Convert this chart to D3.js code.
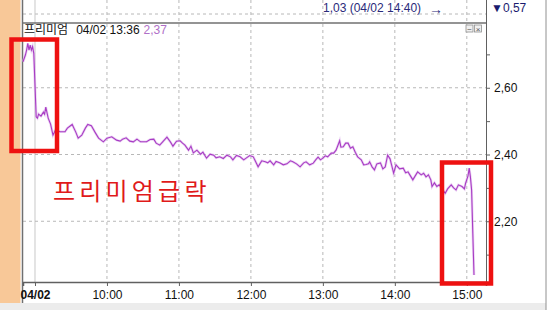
<!DOCTYPE html>
<html>
<head>
<meta charset="utf-8">
<script src="https://cdn.jsdelivr.net/npm/d3@7"></script>
<style>
  html, body { margin: 0; padding: 0; background: #fff; }
  svg { display: block; font-family: "Liberation Sans", "Noto Sans CJK KR", sans-serif; }
  .grid { stroke: #b8b8b8; stroke-dasharray: 3,3; stroke-width: 1; }
  .axis path, .axis line { stroke: #606060; }
  .axis text { font-size: 12px; fill: #111; }
</style>
</head>
<body>
<div id="chart"></div>
<script>
// premium series, 04/02 intraday
const times = [
    "08:50","08:52","08:53","08:54","08:55","08:56","08:57","08:58","08:59","09:01",
    "09:02","09:03","09:05","09:07","09:08","09:09","09:11","09:13","09:15","09:17",
    "09:21","09:25","09:27","09:31","09:34","09:36","09:39","09:42","09:44","09:47",
    "09:50","09:53","09:57","10:00","10:04","10:08","10:11","10:13","10:16","10:19",
    "10:22","10:25","10:28","10:33","10:36","10:39","10:41","10:44","10:47","10:50",
    "10:53","10:55","10:58","11:01","11:03","11:05","11:08","11:10","11:12","11:15",
    "11:18","11:20","11:23","11:26","11:29","11:31","11:34","11:37","11:40","11:43",
    "11:45","11:48","11:51","11:54","11:56","11:59","12:02","12:06","12:09","12:12",
    "12:14","12:16","12:19","12:21","12:24","12:27","12:30","12:33","12:35","12:38",
    "12:41","12:44","12:46","12:49","12:52","12:54","12:56","12:58","13:00","13:02",
    "13:04","13:07","13:09","13:11","13:14","13:15","13:17","13:19","13:21","13:23",
    "13:25","13:27","13:29","13:32","13:34","13:36","13:38","13:39","13:41","13:43",
    "13:45","13:48","13:50","13:52","13:54","13:56","13:59","14:01","14:04","14:07",
    "14:09","14:11","14:13","14:15","14:18","14:19","14:22","14:24","14:26","14:28",
    "14:30","14:31","14:33","14:35","14:37","14:39","14:42","14:44","14:47","14:49",
    "14:51","14:53","14:56","14:58","14:59","15:01","15:02","15:03","15:04","15:05",
    "15:06"
];
const premium = [
    2.678,2.698,2.713,2.733,2.713,2.728,2.713,2.723,2.703,2.513,
    2.509,2.521,2.515,2.527,2.521,2.542,2.509,2.491,2.458,2.473,
    2.468,2.468,2.479,2.490,2.467,2.449,2.458,2.479,2.490,2.486,
    2.467,2.449,2.438,2.449,2.453,2.443,2.440,2.446,2.450,2.440,
    2.438,2.446,2.438,2.438,2.445,2.446,2.434,2.428,2.440,2.452,
    2.437,2.425,2.440,2.441,2.434,2.428,2.413,2.425,2.405,2.413,
    2.401,2.407,2.389,2.401,2.398,2.390,2.393,2.388,2.398,2.393,
    2.384,2.397,2.393,2.384,2.389,2.397,2.393,2.363,2.381,2.378,
    2.375,2.381,2.369,2.379,2.375,2.369,2.372,2.381,2.378,2.372,
    2.363,2.375,2.378,2.369,2.374,2.384,2.392,2.384,2.389,2.396,
    2.393,2.404,2.404,2.413,2.441,2.422,2.423,2.434,2.434,2.419,
    2.423,2.407,2.393,2.384,2.369,2.370,2.372,2.378,2.363,2.354,
    2.372,2.375,2.357,2.363,2.398,2.387,2.344,2.369,2.357,2.359,
    2.345,2.348,2.336,2.324,2.342,2.348,2.339,2.344,2.333,2.339,
    2.324,2.304,2.315,2.304,2.309,2.299,2.284,2.297,2.309,2.300,
    2.294,2.309,2.304,2.297,2.314,2.336,2.359,2.333,2.294,2.164,
    2.039
];

const hourTicks = ["09:00","10:00","11:00","12:00","13:00","14:00","15:00"];
const hourLabels = ["04/02","10:00","11:00","12:00","13:00","14:00","15:00"];
const yMajor = [2.2, 2.4, 2.6];
const yAll = [2.1, 2.2, 2.3, 2.4, 2.5, 2.6, 2.7];

const headerName = "프리미엄";
const headerTime = "04/02 13:36";
const headerValue = "2,37";
const upperInfo = "1,03 (04/02 14:40)";
const upperChange = "▼0,57";
const note = "프리미엄급락";

const W = 549, H = 310;
const plotL = 23, plotR = 486, plotT = 23, plotB = 282;

const parse = d3.timeParse("%H:%M");
const data = times.map((t, i) => ({ t: parse(t), v: premium[i] }));

const x = d3.scaleTime().domain([parse("08:50"), parse("15:16")]).range([plotL, plotR]);
const y = d3.scaleLinear().domain([2.018, 2.794]).range([plotB, plotT]);
const fmt = v => d3.format(".2f")(v).replace(".", ",");

const svg = d3.select("#chart").append("svg")
    .attr("width", W)
    .attr("height", H);

// frame pieces around the panel
svg.append("rect").attr("x", 0).attr("y", 0).attr("width", 20.5).attr("height", 303)
    .attr("fill", "#f8c898");
svg.append("rect").attr("x", 0).attr("y", 303).attr("width", 546).attr("height", 7)
    .attr("fill", "#ececec");
svg.append("line").attr("x1", 546).attr("x2", 546).attr("y1", 0).attr("y2", 310)
    .attr("stroke", "#909090");

// upper panel leftovers
svg.append("line").attr("class", "grid")
    .attr("x1", plotL).attr("x2", plotR).attr("y1", 14).attr("y2", 14);
svg.append("text").attr("x", 323).attr("y", 12)
    .attr("font-size", 12).attr("fill", "#2a2a7a").text(upperInfo);
svg.append("text").attr("x", 429).attr("y", 14)
    .attr("font-size", 14).attr("fill", "#2a2a7a").text("→");
svg.append("text").attr("x", 491).attr("y", 12)
    .attr("font-size", 12).attr("fill", "#1a1a6e").text(upperChange);

// vertical grid
svg.selectAll(".vgrid")
    .data(hourTicks.slice(1))
    .enter().append("line")
    .attr("class", "grid")
    .attr("x1", d => x(parse(d))).attr("x2", d => x(parse(d)))
    .attr("y1", 0).attr("y2", plotB);

// day separator
svg.append("line")
    .attr("x1", x(parse(hourTicks[0]))).attr("x2", x(parse(hourTicks[0])))
    .attr("y1", 0).attr("y2", plotB)
    .attr("stroke", "#c8c8c8");

// horizontal grid
svg.selectAll(".hgrid")
    .data(yMajor)
    .enter().append("line")
    .attr("class", "grid")
    .attr("x1", plotL).attr("x2", plotR)
    .attr("y1", d => y(d)).attr("y2", d => y(d));

// panel borders
svg.append("line").attr("x1", plotL - 0.5).attr("x2", plotL - 0.5).attr("y1", 0).attr("y2", 303)
    .attr("stroke", "#707070").attr("stroke-width", 1.5);
svg.append("line").attr("x1", plotL).attr("x2", plotR).attr("y1", plotT).attr("y2", plotT)
    .attr("stroke", "#707070").attr("stroke-width", 1.5);

// right axis
const yAxis = d3.axisRight(y)
    .tickValues(yAll)
    .tickSize(4)
    .tickFormat(d => yMajor.some(m => Math.abs(m - d) < 1e-9) ? fmt(d) : "");
svg.append("g")
    .attr("class", "axis")
    .attr("transform", `translate(${plotR},0)`)
    .call(yAxis)
    .call(g => g.select(".domain").remove())
    .call(g => g.selectAll("text").attr("x", 8));
svg.append("line").attr("x1", plotR + 0.5).attr("x2", plotR + 0.5).attr("y1", 0).attr("y2", plotB + 4)
    .attr("stroke", "#606060");

// bottom axis
const xAxis = d3.axisBottom(x)
    .tickValues(hourTicks.map(parse))
    .tickSize(4)
    .tickFormat((d, i) => hourLabels[i]);
svg.append("g")
    .attr("class", "axis")
    .attr("transform", `translate(0,${plotB})`)
    .call(xAxis)
    .call(g => g.select(".domain").attr("stroke-width", 1.5))
    .call(g => g.selectAll("text").attr("y", 8))
    .call(g => g.selectAll("text").filter((d, i) => i === 0).attr("font-weight", "bold"));

// min / close buttons
[466, 474.5].forEach((bx, i) => {
    svg.append("rect").attr("x", bx).attr("y", 25).attr("width", 7).attr("height", 7)
        .attr("fill", "#f0f0f0").attr("stroke", "#909090").attr("stroke-width", 0.8);
    svg.append("text").attr("x", bx + 3.5).attr("y", 31.5).attr("text-anchor", "middle")
        .attr("font-size", 8).attr("fill", "#555").text(i === 0 ? "−" : "×");
});

// header
const header = svg.append("text").attr("x", 24).attr("y", 34).attr("font-size", 12);
header.append("tspan").attr("font-family", "Noto Sans CJK KR").attr("fill", "#111").text(headerName);
header.append("tspan").attr("dx", 8).attr("fill", "#111").text(headerTime);
header.append("tspan").attr("dx", 4).attr("fill", "#b070c8").text(headerValue);

// premium line
const line = d3.line()
    .x(d => x(d.t))
    .y(d => y(d.v));
svg.append("path")
    .datum(data)
    .attr("fill", "none")
    .attr("stroke", "#e0b8ec")
    .attr("stroke-width", 2.6)
    .attr("opacity", 0.6)
    .attr("d", line);
svg.append("path")
    .datum(data)
    .attr("fill", "none")
    .attr("stroke", "#a83cc4")
    .attr("stroke-width", 1.1)
    .attr("d", line);

// annotation boxes
svg.append("rect").attr("x", 11.5).attr("y", 39.5).attr("width", 45.5).attr("height", 111.5)
    .attr("fill", "none").attr("stroke", "#ee1111").attr("stroke-width", 4.5);
svg.append("rect").attr("x", 442).attr("y", 162.5).attr("width", 49).attr("height", 121)
    .attr("fill", "none").attr("stroke", "#ee1111").attr("stroke-width", 4.5);

svg.append("text")
    .attr("x", 53).attr("y", 200)
    .attr("font-family", "Noto Sans CJK KR")
    .attr("font-size", 24)
    .attr("letter-spacing", 4.2)
    .attr("fill", "#e01a1a")
    .text(note);
</script>
</body>
</html>
